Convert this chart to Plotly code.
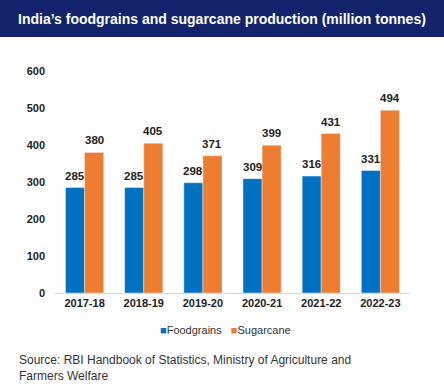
import plotly.graph_objects as go

years = ["2017-18", "2018-19", "2019-20", "2020-21", "2021-22", "2022-23"]
foodgrains = [285, 285, 298, 309, 316, 331]
sugarcane = [380, 405, 371, 399, 431, 494]
y_ticks = [0, 100, 200, 300, 400, 500, 600]
series_names = ["Foodgrains", "Sugarcane"]
series_colors = ["#0070C0", "#ED7D31"]

FONT = "Liberation Sans, Arial, sans-serif"

L, R, T, B = 55, 34, 71, 95
W, H = 444, 388
pw, ph = W - L - R, H - T - B
BARGAP = 0.355

def px_to_paper_x(px):
    return (px - L) / pw

def px_to_paper_y(py):
    return (H - B - py) / ph

fig = go.Figure()
series = [foodgrains, sugarcane]
for name, vals, col in zip(series_names, series, series_colors):
    fig.add_trace(go.Bar(
        x=years, y=vals, name=name, marker_color=col, showlegend=False,
    ))

# value labels placed above each bar, offset within the group
cat_px = pw / len(years)
bar_px = cat_px * (1 - BARGAP) / len(series)
label_annotations = []
for si, vals in enumerate(series):
    xs = (si - (len(series) - 1) / 2) * bar_px
    for yr, v in zip(years, vals):
        label_annotations.append(dict(
            x=yr, y=v, xref="x", yref="y", text=str(v), showarrow=False,
            xanchor="center", yanchor="bottom", xshift=xs, yshift=4,
            font=dict(family=FONT, size=11.5, color="#222222", weight="bold"),
        ))

legend_text = "&nbsp;&nbsp;&nbsp;".join(
    f"<span style='color:{c}'>■</span>{n}" for n, c in zip(series_names, series_colors)
)

fig.update_layout(
    width=W, height=H,
    margin=dict(l=L, r=R, t=T, b=B),
    paper_bgcolor="white", plot_bgcolor="white",
    barmode="group", bargap=BARGAP, bargroupgap=0,
    font=dict(family=FONT, color="#222222"),
    xaxis=dict(
        showgrid=False, showline=True, linecolor="#d9d9d9", linewidth=1,
        ticks="", tickfont=dict(family=FONT, size=11, color="#222222", weight="bold"),
    ),
    yaxis=dict(
        range=[0, 600], tickvals=y_ticks, showgrid=False, zeroline=False,
        showline=False, ticks="", ticklabelstandoff=9,
        tickfont=dict(family=FONT, size=11, color="#222222", weight="bold"),
    ),
    shapes=[dict(
        type="rect", xref="paper", yref="paper",
        x0=px_to_paper_x(0), x1=px_to_paper_x(W),
        y0=px_to_paper_y(37), y1=px_to_paper_y(0),
        fillcolor="#13236B", line=dict(width=0), layer="below",
    )],
    annotations=label_annotations + [
        dict(
            text="India’s foodgrains and sugarcane production (million tonnes)",
            xref="paper", yref="paper", x=px_to_paper_x(W / 2), y=px_to_paper_y(18.5),
            xanchor="center", yanchor="middle", showarrow=False,
            font=dict(family=FONT, size=14, color="white", weight="bold"),
        ),
        dict(
            text=legend_text,
            xref="paper", yref="paper", x=px_to_paper_x(225), y=px_to_paper_y(330),
            xanchor="center", yanchor="middle", showarrow=False,
            font=dict(family=FONT, size=11, color="#333333"),
        ),
        dict(
            text="Source: RBI Handbook of Statistics, Ministry of Agriculture and<br>Farmers Welfare",
            xref="paper", yref="paper", x=px_to_paper_x(17), y=px_to_paper_y(351),
            xanchor="left", yanchor="top", align="left", showarrow=False,
            font=dict(family=FONT, size=12, color="#333333"),
        ),
    ],
)

fig.write_html("out.html", config={"displayModeBar": False},
               post_script="document.body.style.margin='0px';")
